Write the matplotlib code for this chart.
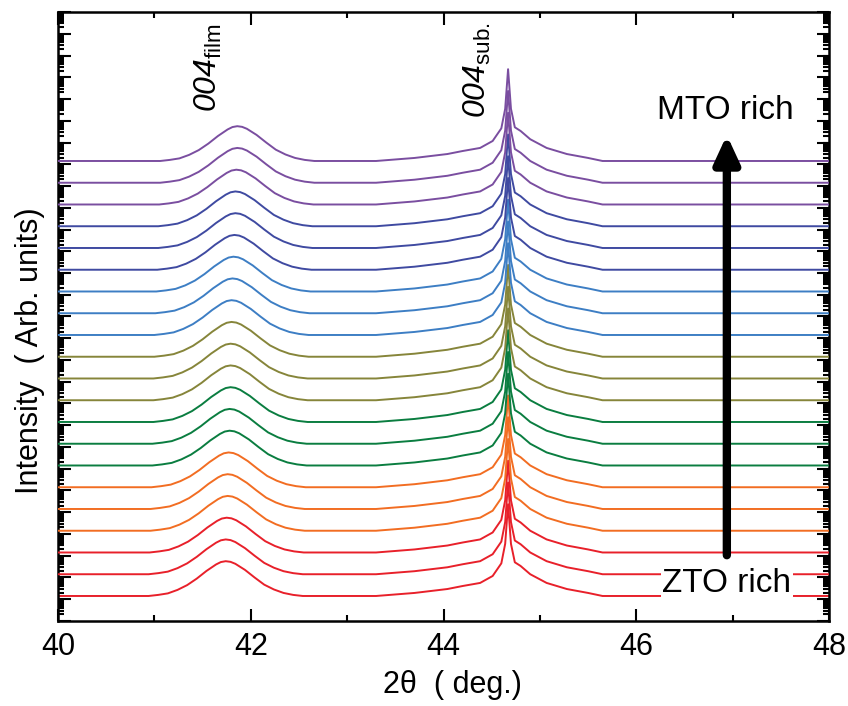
import numpy as np
import matplotlib
matplotlib.use("Agg")
import matplotlib.pyplot as plt
from matplotlib.ticker import LogLocator, NullFormatter, MultipleLocator

plt.rcParams['font.family'] = ['Liberation Sans', 'DejaVu Sans']
plt.rcParams['mathtext.fontset'] = 'custom'
plt.rcParams['mathtext.rm'] = 'Liberation Sans'
plt.rcParams['mathtext.sf'] = 'Liberation Sans:italic'

# stacked XRD scans, bottom (ZTO rich) to top (MTO rich)
# background level of each scan, in decades on the log axis
base_decade = [1.15, 2.15, 3.15, 4.15, 5.15, 6.15, 7.15, 8.15, 9.15, 10.15, 11.15,
               12.15, 13.15, 14.15, 15.15, 16.15, 17.15, 18.15, 19.15, 20.15, 21.15]
# 004 film peak centre of each scan (deg)
film_center = [41.74, 41.74, 41.75, 41.76, 41.76, 41.77, 41.78, 41.78, 41.79, 41.79, 41.79,
               41.80, 41.80, 41.81, 41.82, 41.83, 41.84, 41.84, 41.85, 41.86, 41.86]
colors = ['#e8202a'] * 3 + ['#f26d22'] * 3 + ['#0a7d40'] * 3 + ['#86853a'] * 3 + \
         ['#3d7ec4'] * 3 + ['#3f4aa1'] * 3 + ['#7a4ea0'] * 3

# film peak profile: offset from centre (deg) -> rise above background (decades)
film_offset = [-0.8, -0.7, -0.6, -0.5, -0.4, -0.3, -0.2, -0.1, -0.05, 0.0,
               0.05, 0.1, 0.2, 0.3, 0.4, 0.5, 0.6, 0.7, 0.8]
film_rise = [0.0, 0.05, 0.12, 0.28, 0.5, 0.8, 1.15, 1.45, 1.56, 1.6,
             1.57, 1.48, 1.2, 0.85, 0.52, 0.3, 0.14, 0.05, 0.0]
# substrate 004 peak profile: 2theta (deg) -> rise above background (decades)
sub_tt = [43.3, 43.7, 44.04, 44.2, 44.38, 44.51, 44.6, 44.64, 44.67,
          44.70, 44.74, 44.8, 44.9, 45.07, 45.28, 45.5, 45.65]
sub_rise = [0.0, 0.14, 0.32, 0.46, 0.6, 0.92, 1.5, 2.4, 4.22,
            2.4, 1.55, 1.38, 1.0, 0.6, 0.32, 0.14, 0.0]

fig = plt.figure(figsize=(8.48, 7.06), dpi=100)
ax = fig.add_axes([0.0684, 0.1204, 0.9092, 0.8626])

for i in range(len(base_decade)):
    x = [40.0] + [film_center[i] + d for d in film_offset] + sub_tt + [48.0]
    h = [0.0] + film_rise + sub_rise + [0.0]
    y = 10 ** (base_decade[i] + np.array(h))
    ax.plot(x, y, color=colors[i], lw=1.4, zorder=2 + i)

ax.set_yscale('log')
ax.set_xlim(40, 48)
ax.set_ylim(1, 1e28)
ax.xaxis.set_major_locator(MultipleLocator(2))
ax.xaxis.set_minor_locator(MultipleLocator(1))
ax.yaxis.set_major_locator(LogLocator(base=10, numticks=60))
ax.yaxis.set_minor_locator(LogLocator(base=10, subs=np.arange(2, 10) * 1.0, numticks=60))
ax.yaxis.set_major_formatter(NullFormatter())
ax.yaxis.set_minor_formatter(NullFormatter())
ax.tick_params(which='both', direction='in', top=True, right=True, width=1.5)
ax.tick_params(which='major', length=9, labelsize=22, pad=8)
ax.tick_params(which='minor', length=4.5)
for s in ax.spines.values():
    s.set_linewidth(1.8)

tr = ax.get_xaxis_transform()
ax.text(41.56, 0.909, r'$\mathsf{004}_{\mathrm{film}}$', transform=tr, rotation=90,
        ha='center', va='center', fontsize=23)
ax.text(44.35, 0.905, r'$\mathsf{004}_{\mathrm{sub.}}$', transform=tr, rotation=90,
        ha='center', va='center', fontsize=23)
ax.text(46.92, 0.839, 'MTO rich', transform=tr, ha='center', va='center', fontsize=24)
ax.text(46.94, 0.062, 'ZTO rich', transform=tr, ha='center', va='center', fontsize=24,
        zorder=40, bbox=dict(facecolor='white', edgecolor='none', pad=1))
ax.annotate('', xy=(46.94, 0.798), xytext=(46.94, 0.108), xycoords=tr, textcoords=tr,
            arrowprops=dict(arrowstyle='-|>,head_width=0.3,head_length=0.65',
                            lw=6, color='k', mutation_scale=25, shrinkA=0, shrinkB=0),
            zorder=40)

fig.text(0.035, 0.503, 'Intensity  ( Arb. units)', rotation=90, ha='center', va='center',
         fontsize=22)
fig.text(0.534, 0.03, '2θ  ( deg.)', ha='center', va='center', fontsize=22)

fig.savefig('out.png', dpi=100)
